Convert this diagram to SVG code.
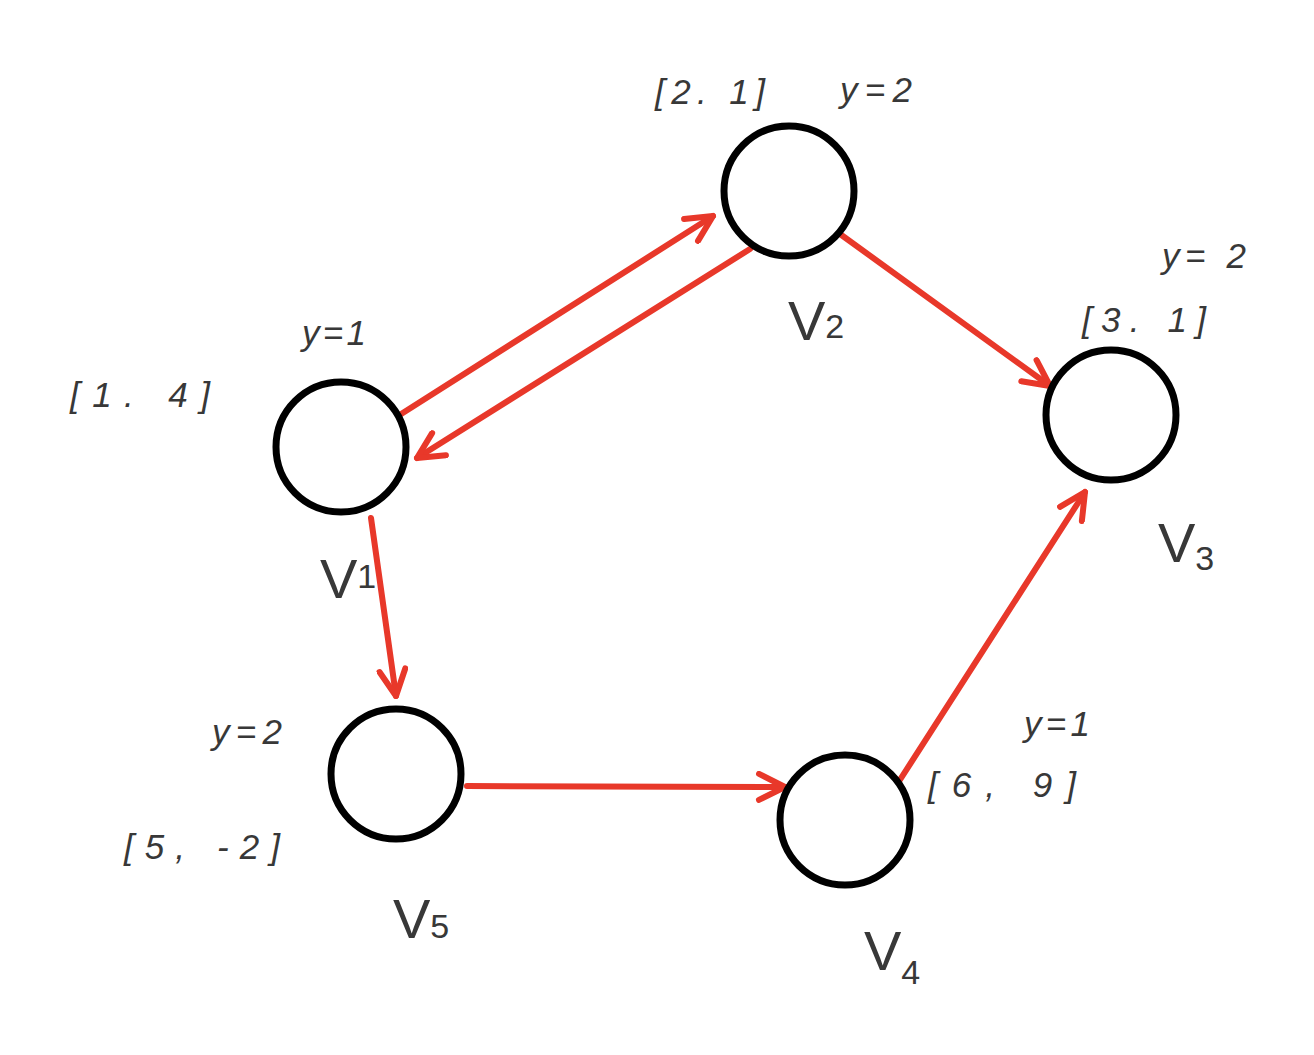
<svg xmlns="http://www.w3.org/2000/svg" width="1314" height="1055" viewBox="0 0 1314 1055">
<style>
.node{fill:#fff;stroke:#000;stroke-width:7}
.edge{stroke:#e8382a;stroke-width:6;fill:none;stroke-linecap:round}
.lbl{font-family:"Liberation Sans",sans-serif;fill:#383838;font-style:italic;font-size:35px}
.v{font-family:"Liberation Sans",sans-serif;fill:#383838;font-size:56px}
.sub{font-size:34px}
</style>
<defs>
<marker id="arr" viewBox="-30 -16 34 32" refX="0" refY="0" markerWidth="34" markerHeight="32" markerUnits="userSpaceOnUse" orient="auto">
<path d="M-26,-13 L0,0 L-26,13" fill="none" stroke="#e8382a" stroke-width="6" stroke-linecap="round" stroke-linejoin="round"/>
</marker>
</defs>
<rect width="1314" height="1055" fill="#fff"/>
<g id="connectors">
<line class="edge" x1="398" y1="416" x2="713" y2="216" marker-end="url(#arr)"/>
<line class="edge" x1="750" y1="249" x2="417" y2="458" marker-end="url(#arr)"/>
<line class="edge" x1="840" y1="234" x2="1050" y2="386" marker-end="url(#arr)"/>
<line class="edge" x1="371" y1="518" x2="396" y2="696" marker-end="url(#arr)"/>
<line class="edge" x1="467" y1="786" x2="785" y2="787" marker-end="url(#arr)"/>
<line class="edge" x1="896" y1="786" x2="1085" y2="492" marker-end="url(#arr)"/>
</g>
<g id="v2">
<circle class="node" cx="789" cy="191" r="65"/>
<text class="v" x="788" y="340">V<tspan class="sub" dy="-2">2</tspan></text>
<text class="lbl" x="655" y="104" textLength="110" lengthAdjust="spacing">[2. 1]</text>
<text class="lbl" x="840" y="102" textLength="72" lengthAdjust="spacing">y=2</text>
</g>
<g id="v1">
<circle class="node" cx="341" cy="447" r="65"/>
<text class="v" x="320" y="598">V<tspan class="sub" dy="-10">1</tspan></text>
<text class="lbl" x="302" y="345" textLength="64" lengthAdjust="spacing">y=1</text>
<text class="lbl" x="70" y="407" textLength="140" lengthAdjust="spacing">[1. 4]</text>
</g>
<g id="v3">
<circle class="node" cx="1111" cy="415" r="65"/>
<text class="v" x="1158" y="562">V<tspan class="sub" dy="8">3</tspan></text>
<text class="lbl" x="1162" y="268" textLength="84" lengthAdjust="spacing">y= 2</text>
<text class="lbl" x="1082" y="332" textLength="124" lengthAdjust="spacing">[3. 1]</text>
</g>
<g id="v5">
<circle class="node" cx="396" cy="774" r="65"/>
<text class="v" x="393" y="938">V<tspan class="sub" dy="0">5</tspan></text>
<text class="lbl" x="212" y="744" textLength="70" lengthAdjust="spacing">y=2</text>
<text class="lbl" x="124" y="859" textLength="156" lengthAdjust="spacing">[5, -2]</text>
</g>
<g id="v4">
<circle class="node" cx="845" cy="820" r="65"/>
<text class="v" x="864" y="970">V<tspan class="sub" dy="14">4</tspan></text>
<text class="lbl" x="1024" y="736" textLength="66" lengthAdjust="spacing">y=1</text>
<text class="lbl" x="928" y="797" textLength="148" lengthAdjust="spacing">[6, 9]</text>
</g>
</svg>
